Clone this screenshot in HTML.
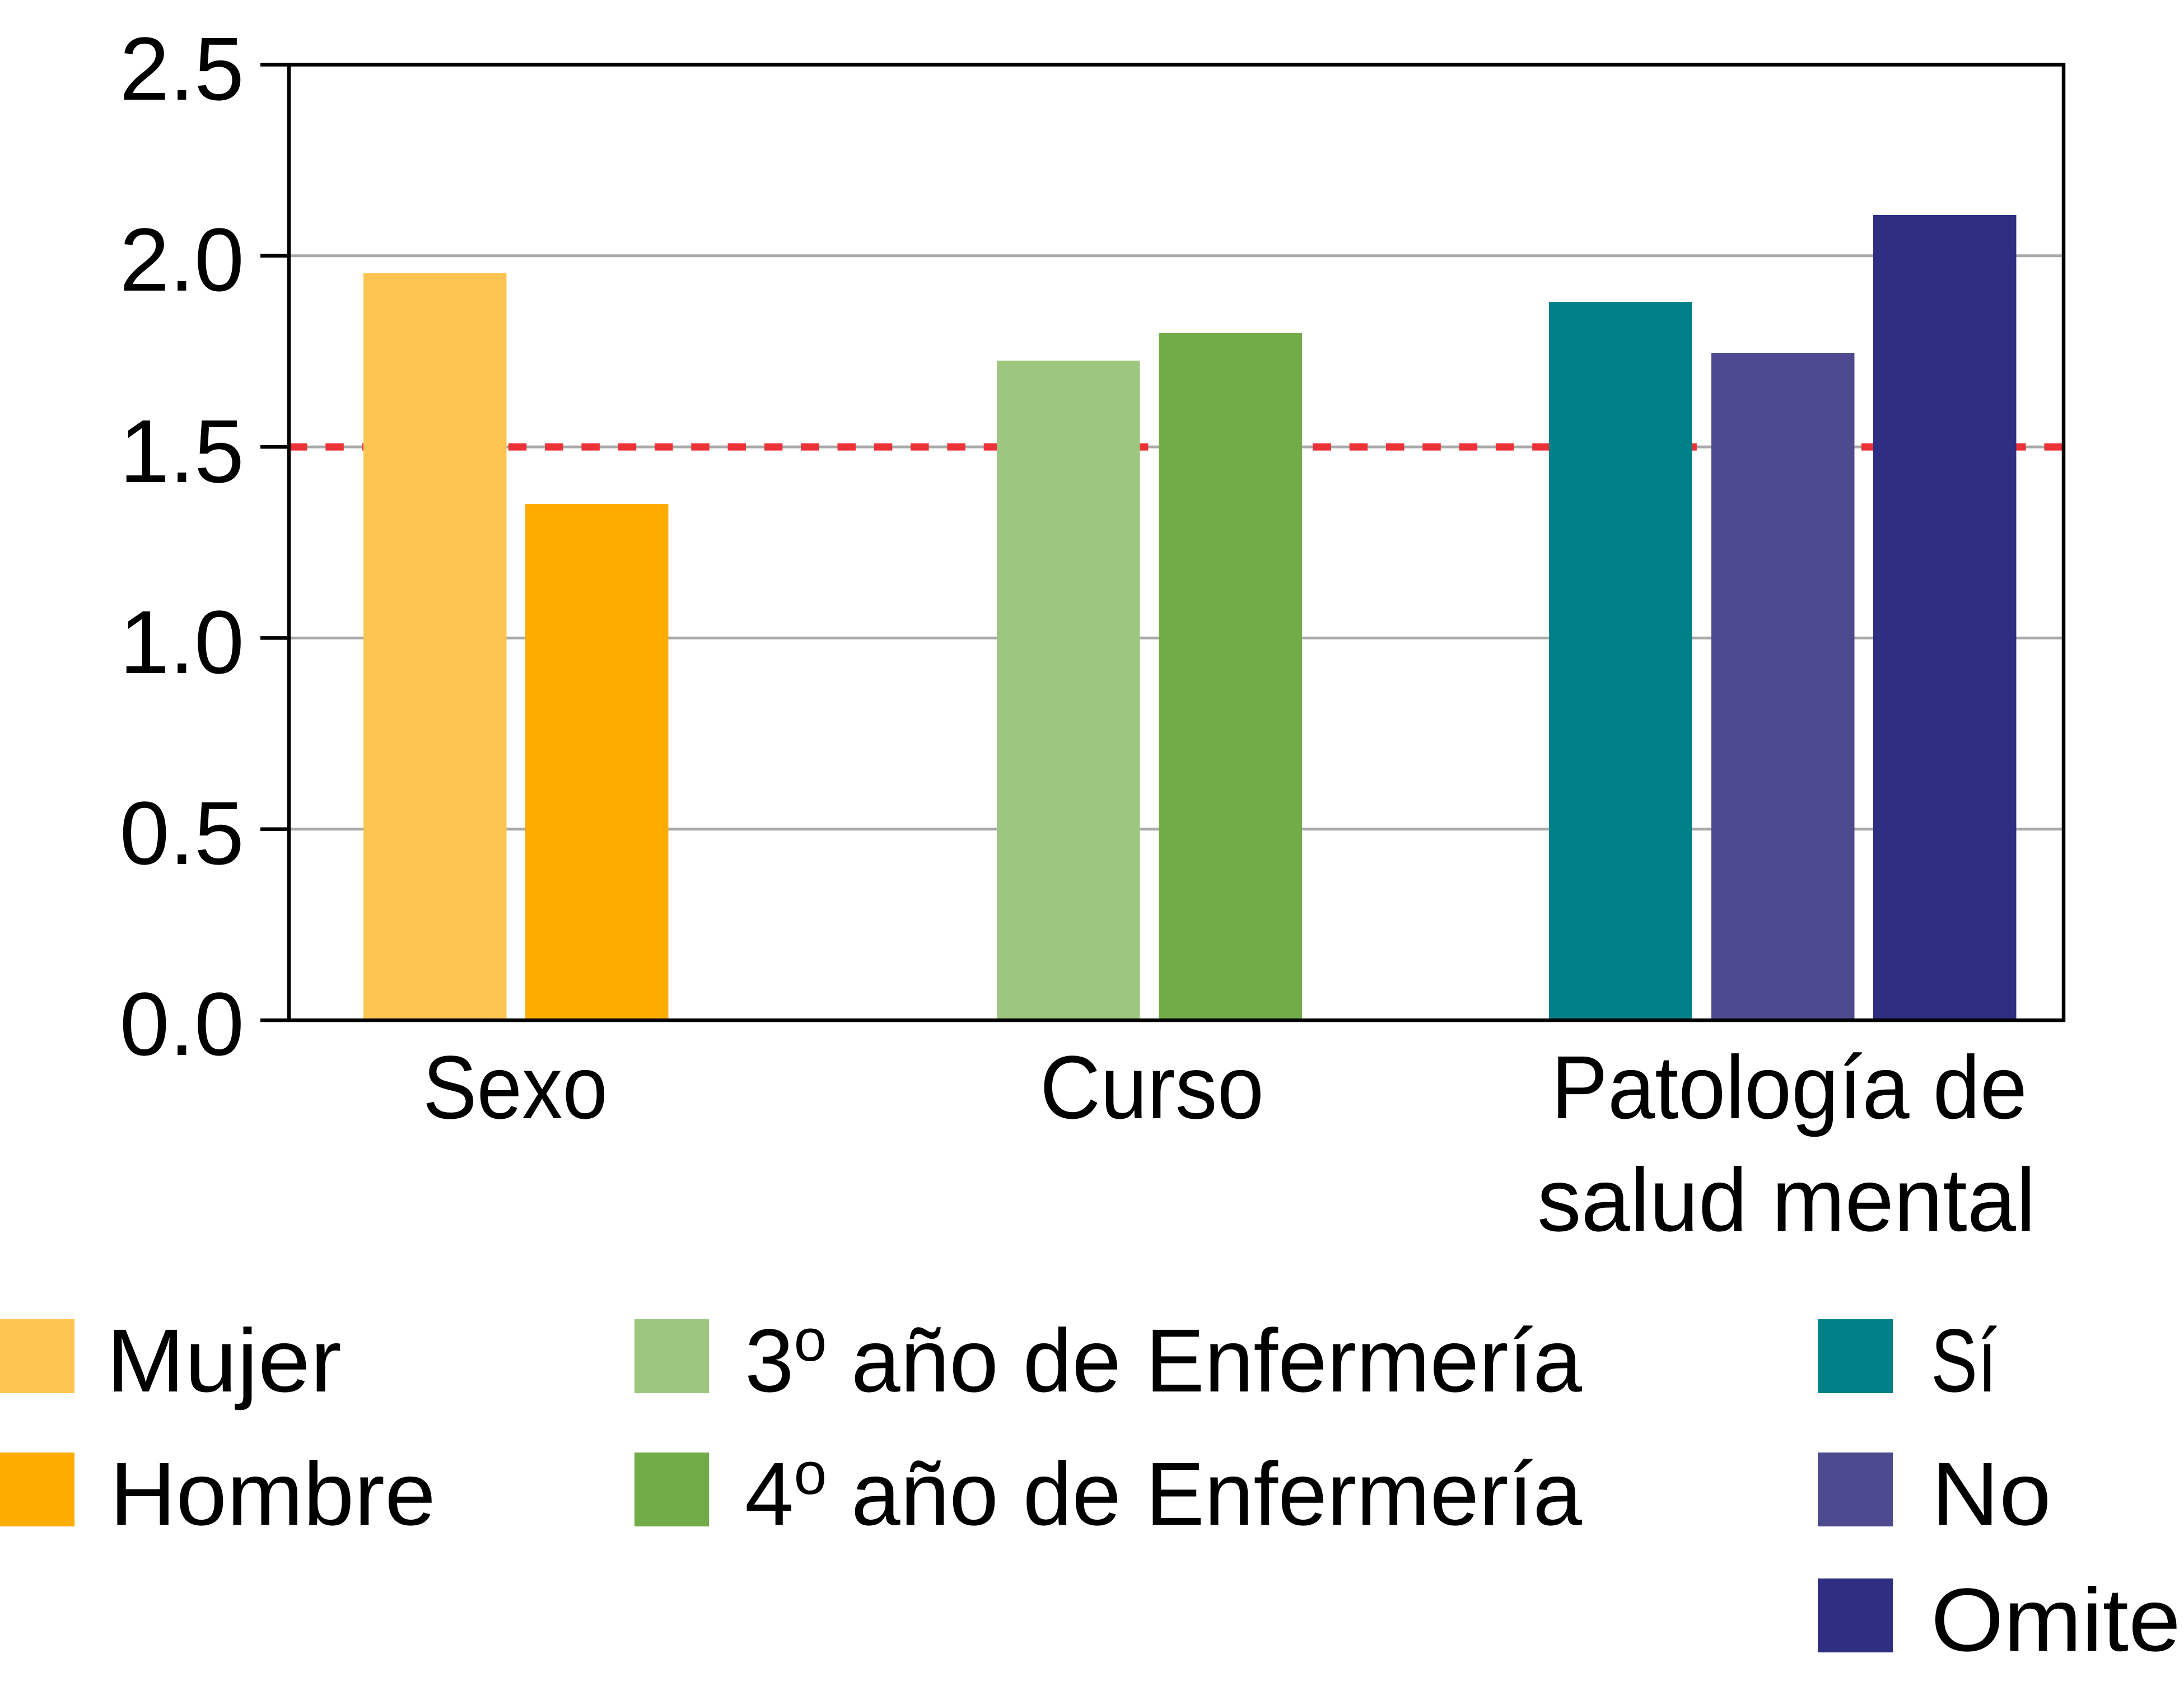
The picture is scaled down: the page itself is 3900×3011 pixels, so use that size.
<!DOCTYPE html>
<html>
<head>
<meta charset="utf-8">
<style>
html,body{margin:0;padding:0;background:#fff;}
svg{display:block;}
text{font-family:"Liberation Sans",sans-serif;fill:#000;}
</style>
</head>
<body>
<svg width="3900" height="3011" viewBox="0 0 3900 3011" xmlns="http://www.w3.org/2000/svg">
<rect x="0" y="0" width="3900" height="3011" fill="#fff"/>
<!-- gridlines -->
<g stroke="#a9a9a9" stroke-width="5">
<line x1="516" y1="456.8" x2="3685" y2="456.8"/>
<line x1="516" y1="798.1" x2="3685" y2="798.1"/>
<line x1="516" y1="1139.4" x2="3685" y2="1139.4"/>
<line x1="516" y1="1480.7" x2="3685" y2="1480.7"/>
</g>
<!-- red dashed reference -->
<line x1="516" y1="798.1" x2="3685" y2="798.1" stroke="#ec3237" stroke-width="13" stroke-dasharray="32.5 32.8"/>
<!-- bars -->
<rect x="649" y="488" width="255.5" height="1334" fill="#ffc550"/>
<rect x="938" y="900" width="255.5" height="922" fill="#ffac00"/>
<rect x="1780" y="644" width="255.5" height="1178" fill="#9dc67e"/>
<rect x="2069.5" y="595" width="255.5" height="1227" fill="#71ac49"/>
<rect x="2766" y="539" width="255.5" height="1283" fill="#00818a"/>
<rect x="3056" y="630" width="255.5" height="1192" fill="#4e4a90"/>
<rect x="3345" y="384" width="255.5" height="1438" fill="#2f2e82"/>
<!-- frame -->
<rect x="516" y="115.5" width="3169" height="1706.5" fill="none" stroke="#000" stroke-width="6.5"/>
<g stroke="#000" stroke-width="6.5">
<line x1="465" y1="115.5" x2="516" y2="115.5"/>
<line x1="465" y1="456.8" x2="516" y2="456.8"/>
<line x1="465" y1="798.1" x2="516" y2="798.1"/>
<line x1="465" y1="1139.4" x2="516" y2="1139.4"/>
<line x1="465" y1="1480.7" x2="516" y2="1480.7"/>
<line x1="465" y1="1822" x2="516" y2="1822"/>
</g>
<!-- tick labels -->
<g font-size="160" text-anchor="end">
<text x="436" y="178">2.5</text>
<text x="436" y="519">2.0</text>
<text x="436" y="861">1.5</text>
<text x="436" y="1202">1.0</text>
<text x="436" y="1543">0.5</text>
<text x="436" y="1884">0.0</text>
</g>
<!-- category labels -->
<g font-size="160" text-anchor="middle">
<text x="920" y="1997" textLength="330" lengthAdjust="spacingAndGlyphs">Sexo</text>
<text x="2057" y="1997" textLength="400" lengthAdjust="spacingAndGlyphs">Curso</text>
<text x="3195" y="1997" textLength="850" lengthAdjust="spacingAndGlyphs">Patología de</text>
<text x="3190" y="2198" textLength="890" lengthAdjust="spacingAndGlyphs">salud mental</text>
</g>
<!-- legend swatches -->
<rect x="0" y="2356" width="133" height="132" fill="#ffc550"/>
<rect x="0" y="2594" width="133" height="132" fill="#ffac00"/>
<rect x="1133" y="2356" width="133" height="132" fill="#9dc67e"/>
<rect x="1133" y="2594" width="133" height="132" fill="#71ac49"/>
<rect x="3246" y="2356" width="134" height="132" fill="#00818a"/>
<rect x="3246" y="2594" width="134" height="132" fill="#4e4a90"/>
<rect x="3246" y="2819" width="134" height="132" fill="#2f2e82"/>
<!-- legend text -->
<g font-size="160">
<text x="190" y="2485" textLength="420" lengthAdjust="spacingAndGlyphs">Mujer</text>
<text x="196" y="2723" textLength="582" lengthAdjust="spacingAndGlyphs">Hombre</text>
<text x="1330" y="2485" textLength="1495" lengthAdjust="spacingAndGlyphs">3<tspan font-size="107" dy="-55">o</tspan><tspan dy="55"> año de Enfermería</tspan></text>
<text x="1330" y="2723" textLength="1495" lengthAdjust="spacingAndGlyphs">4<tspan font-size="107" dy="-55">o</tspan><tspan dy="55"> año de Enfermería</tspan></text>
<text x="3448" y="2485" textLength="118" lengthAdjust="spacingAndGlyphs">Sí</text>
<text x="3449" y="2723" textLength="214" lengthAdjust="spacingAndGlyphs">No</text>
<text x="3448" y="2948" textLength="446" lengthAdjust="spacingAndGlyphs">Omite</text>
</g>
</svg>
</body>
</html>
